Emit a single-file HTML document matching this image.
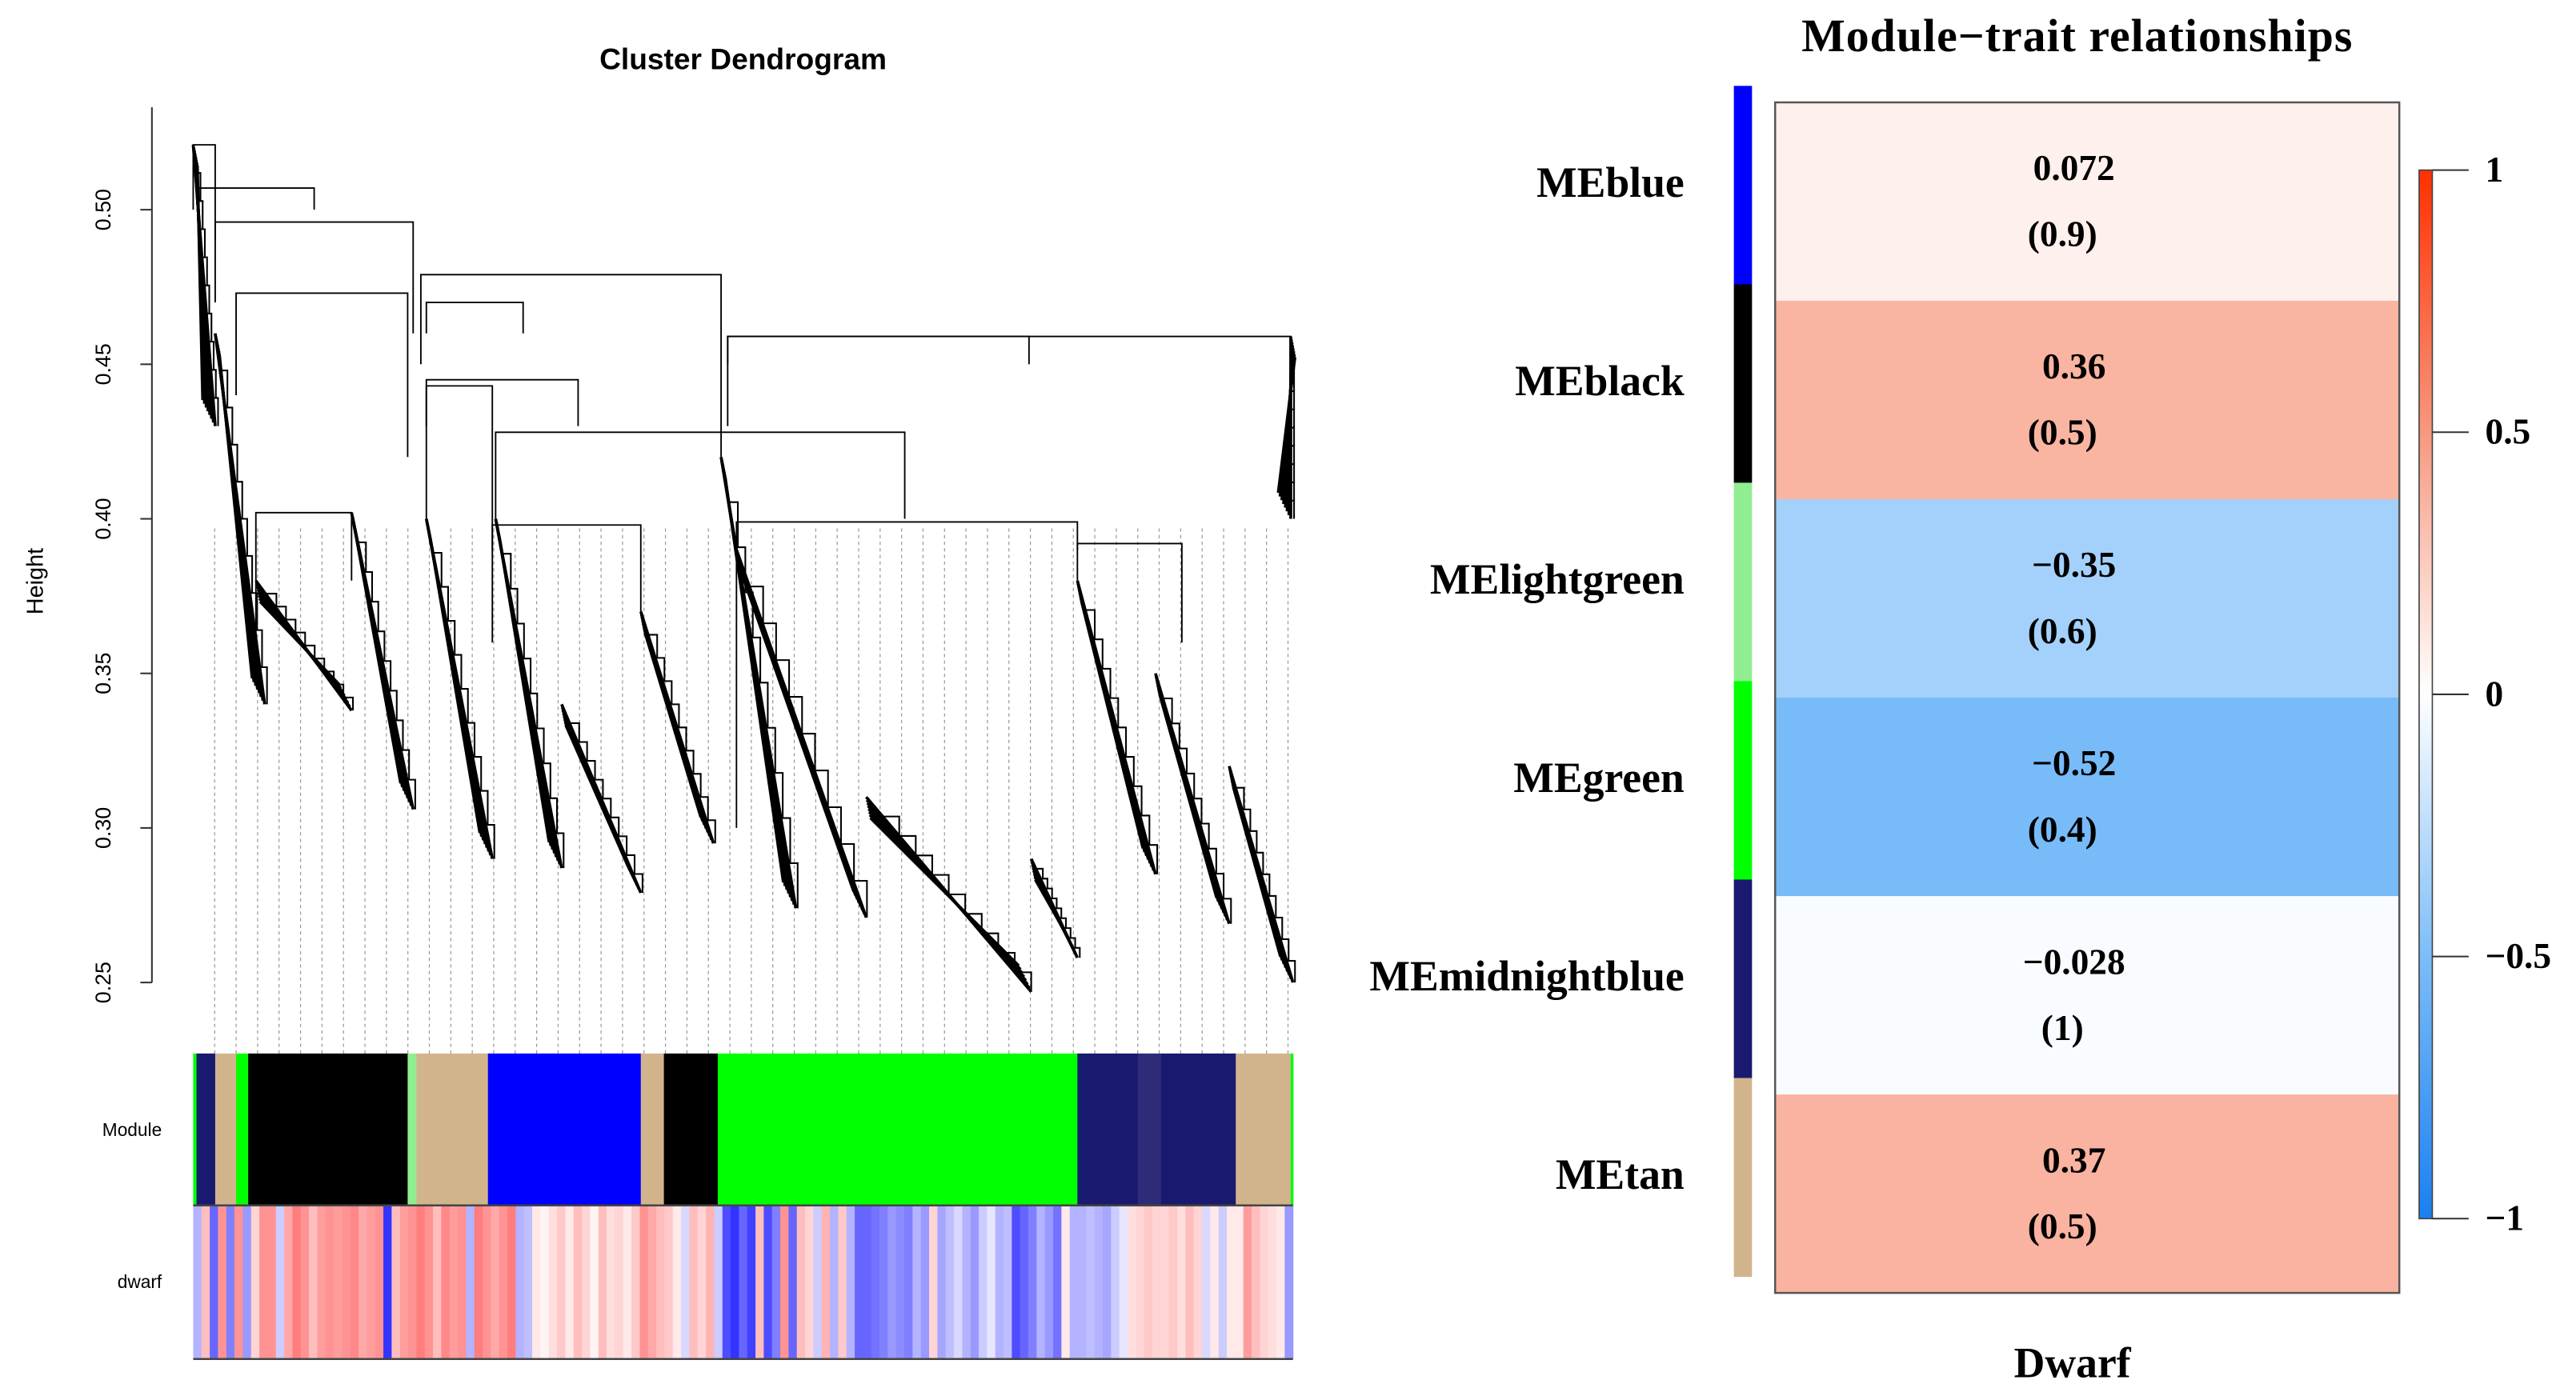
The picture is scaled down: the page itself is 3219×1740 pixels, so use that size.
<!DOCTYPE html>
<html><head><meta charset="utf-8"><style>
html,body{margin:0;padding:0;background:#fff;}
svg{display:block;}
</style></head><body>
<svg id="fig" xmlns="http://www.w3.org/2000/svg" width="3219" height="1740" viewBox="0 0 1560 843" preserveAspectRatio="none">
<rect width="1560" height="843" fill="#fff"/>
<g id="left" font-family="Liberation Sans, sans-serif">
 <text x="450" y="42" font-size="18" font-weight="bold" text-anchor="middle">Cluster Dendrogram</text>
 <text x="26" y="352" font-size="14" text-anchor="middle" transform="rotate(-90 26 352)">Height</text>
 <line x1="92" y1="65" x2="92" y2="595" stroke="#333" stroke-width="1"/>
 <g id="yticks"></g>
 <g id="guides"></g>
 <g id="dendro"></g>
 <text x="98" y="688" font-size="11" text-anchor="end">Module</text>
 <text x="98" y="780" font-size="11" text-anchor="end">dwarf</text>
 <g id="modbar"></g>
 <g id="dwarfbar"></g>
 <line x1="117" y1="730" x2="783" y2="730" stroke="#444" stroke-width="1.2"/>
 <line x1="117" y1="823" x2="783" y2="823" stroke="#444" stroke-width="1.2"/>
</g>
<g id="right" font-family="Liberation Serif, serif" font-weight="bold">
 <text x="1258" y="31" font-size="28" text-anchor="middle" letter-spacing="0.5">Module−trait relationships</text>
 <g id="heat"></g>
 <rect x="1075" y="62" width="378" height="721" fill="none" stroke="#555" stroke-width="1.2"/>
 <defs><linearGradient id="cb" x1="0" y1="1" x2="0" y2="0">
  <stop offset="0" stop-color="#1a80f0"/><stop offset="0.25" stop-color="#7cbdf9"/><stop offset="0.5" stop-color="#ffffff"/><stop offset="0.75" stop-color="#f7987e"/><stop offset="1" stop-color="#ff3000"/></linearGradient></defs>
 <rect x="1465" y="103" width="8" height="635" fill="url(#cb)" stroke="#444" stroke-width="0.8"/>
 <g id="cbticks"></g>
 <text x="1255" y="834" font-size="26" text-anchor="middle">Dwarf</text>
</g>
</svg>
<script>
// ---------- data ----------
const yTicks = [0.25, 0.30, 0.35, 0.40, 0.45, 0.50];
const yTickLabels = ["0.25", "0.30", "0.35", "0.40", "0.45", "0.50"];
// merges: [leftLeaf, rightLeaf, height, leftChildHeight, rightChildHeight]
const merges = [
 [0,20,0.521,0.50,0.49],[5,110,0.507,0.50,0.50],[20,200,0.496,0.47,0.46],[39,195,0.473,0.44,0.42],
 [207,480,0.479,0.45,0.42],[486,998,0.459,0.43,0.402],[275,647,0.428,0.40,0.40],[57,144,0.402,0.36,0.38],
 [494,804,0.399,0.30,0.39],[212,272,0.443,0.40,0.39],[272,407,0.398,0.36,0.37],[804,899,0.392,0.38,0.36],
 [486,760,0.459,0.45,0.45],[212,300,0.470,0.46,0.46],[212,350,0.445,0.43,0.43]
];
// bundles: [topLeaf, topHeight, bottomLeaf, bottomHeight]
const bundles = [
 [0,0.521,20,0.43],[20,0.46,65,0.34],[57,0.38,144,0.338],[144,0.402,200,0.306],[212,0.40,272,0.29],
 [275,0.40,335,0.287],[335,0.34,407,0.279],[407,0.37,473,0.295],[480,0.42,548,0.274],[494,0.39,612,0.271],
 [612,0.31,762,0.247],[762,0.29,804,0.258],[804,0.38,875,0.285],[875,0.35,942,0.269],[942,0.32,1000,0.25],
 [998,0.459,998,0.40]
];
// module segments: [startLeaf, endLeaf, color]
const moduleSegs = [
 [0,3,"#00ff00"],[3,20,"#191970"],[20,39,"#d2b48c"],[39,50,"#00ff00"],[50,195,"#000000"],[195,203,"#90ee90"],
 [203,268,"#d2b48c"],[268,407,"#0000ff"],[407,428,"#d2b48c"],[428,477,"#000000"],[477,486,"#00ff00"],
 [486,804,"#00ff00"],[804,859,"#191970"],[859,880,"#2e2c78"],[880,948,"#191970"],[948,998,"#d2b48c"],[998,1000,"#00ff00"]
];
const dwarfValues = [
 -0.3,0.3,-0.6,0.5,-0.5,0.5,-0.4,
 0.2,0.5,0.5,-0.2,0.4,0.6,0.5,0.3,0.45,0.5,0.45,0.5,0.55,0.4,0.45,0.5,-0.8,0.3,0.45,0.5,
 0.6,0.5,0.3,0.55,0.45,0.5,-0.3,0.6,0.5,0.4,
 0.5,0.6,-0.3,-0.25,0.1,0.05,0.15,0.25,0.1,0.3,0.2,0.05,0.3,0.15,0.2,0.1,0.25,0.5,
 0.4,0.3,0.25,0.1,-0.15,0.3,0.2,0.35,-0.2,
 -0.7,-0.8,-0.6,-0.75,0.3,-0.7,-0.5,0.5,-0.6,0.3,0.2,-0.2,0.35,-0.3,0.25,-0.3,-0.6,
 -0.6,-0.55,-0.5,-0.4,-0.45,-0.5,-0.3,-0.4,0.2,-0.35,-0.25,-0.15,-0.3,-0.4,-0.2,-0.1,-0.3,-0.25,-0.7,-0.6,-0.5,-0.3,-0.4,-0.55,0.1,-0.3,
 -0.3,-0.25,-0.3,-0.35,-0.2,-0.1,0.15,0.2,0.25,0.2,
 0.2,0.25,0.15,0.3,0.2,-0.15,0.1,-0.2,0.1,0.1,
 0.45,0.3,0.2,0.15,0.1,-0.4
];
const modules = ["MEblue","MEblack","MElightgreen","MEgreen","MEmidnightblue","MEtan"];
const moduleColors = ["#0000ff","#000000","#90ee90","#00ff00","#191970","#d2b48c"];
const corrValues = [0.072, 0.36, -0.35, -0.52, -0.028, 0.37];
const corrLabels = ["0.072","0.36","\u22120.35","\u22120.52","\u22120.028","0.37"];
const pLabels = ["(0.9)","(0.5)","(0.6)","(0.4)","(1)","(0.5)"];
const cbTicks = [1, 0.5, 0, -0.5, -1];
const cbTickLabels = ["1","0.5","0","\u22120.5","\u22121"];

// ---------- scales ----------
const NS="http://www.w3.org/2000/svg";
function mk(tag, attrs, parent){const e=document.createElementNS(NS,tag);for(const k in attrs)e.setAttribute(k,attrs[k]);parent.appendChild(e);return e;}
const xL = l => 117 + l/1000*666;
const yH = h => 595 - (h-0.25)/0.25*468;
const yC = v => 420.5 - v*317.5;
const rowY = i => 62 + i*721/6;

const yt=document.getElementById('yticks');
yTicks.forEach((t,i)=>{
 const l=mk('line',{x1:85,x2:92,y1:yH(t),y2:yH(t),stroke:'#333','stroke-width':1},yt);
 
 
 const tx=mk('text',{x:67,y:yH(t),'font-size':13,'text-anchor':'middle',transform:`rotate(-90 67 ${yH(t)})`},yt);
 tx.textContent=yTickLabels[i];
 
 
});
const gd=document.getElementById('guides');
for(let k=0;k<51;k++){
 const x=130+k*13;
 const l=mk('line',{x1:x,x2:x,y1:320,y2:638,stroke:'#999','stroke-width':0.6,'stroke-dasharray':'2,2'},gd);
 
 
}
const dg=document.getElementById('dendro');
merges.forEach(m=>{
 const [a,b,h,ha,hb]=m;
 const p=mk('path',{d:`M${xL(a)},${yH(ha)}V${yH(h)}H${xL(b)}V${yH(hb)}`,fill:'none',stroke:'#000','stroke-width':0.9},dg);
 
 
});
bundles.forEach(bd=>{
 const [a,ha,b,hb]=bd;
 const g=mk('g',{},dg);
 
 
 const x1=xL(a),y1=yH(ha),x2=xL(b),y2=yH(hb);
 for(let j=0;j<8;j++){
  const o=j*0.9;
  mk('line',{x1:x1+o*0.4,y1:y1+o*2,x2:x2-o*1.2,y2:y2-o*2.5,stroke:'#000','stroke-width':1.8},g);
 }
 for(let j=1;j<10;j++){
  const t=j/10, xx=x1+(x2-x1)*t, yy=y1+(y2-y1)*t;
  mk('path',{d:`M${xx},${yy}H${xx+(x2-x1)*0.08+2}V${yy+(y2-y1)*0.1}`,fill:'none',stroke:'#000','stroke-width':1},g);
 }
});
const mb=document.getElementById('modbar');
moduleSegs.forEach(s=>{
 const r=mk('rect',{x:xL(s[0]),y:638,width:xL(s[1])-xL(s[0])+0.3,height:92,fill:s[2]},mb);
 
 
});
const db=document.getElementById('dwarfbar');
const sw=666/dwarfValues.length;
function dcol(v){const a=Math.min(1,Math.abs(v));if(v>=0){const g=Math.round(255*(1-0.85*a));return `rgb(255,${g},${g})`;}const g=Math.round(255*(1-a));return `rgb(${g},${g},255)`;}
dwarfValues.forEach((v,i)=>{
 const r=mk('rect',{x:117+i*sw,y:730,width:sw+0.3,height:93,fill:dcol(v)},db);
 
 
});
function hcol(v){
 const stops=[[-1,[26,128,240]],[-0.5,[124,189,249]],[0,[255,255,255]],[0.5,[247,152,126]],[1,[255,48,0]]];
 for(let i=0;i<stops.length-1;i++){const [a,ca]=stops[i],[b,cb]=stops[i+1];
  if(v>=a&&v<=b){const t=(v-a)/(b-a);return 'rgb('+ca.map((c,k)=>Math.round(c+(cb[k]-c)*t)).join(',')+')';}}
 return '#fff';
}
const hm=document.getElementById('heat');
const rh=721/6;
modules.forEach((m,i)=>{
 const y=rowY(i);
 const c=mk('rect',{x:1075,y:y,width:378,height:rh+0.3,fill:hcol(corrValues[i])},hm);
 
 
 const s=mk('rect',{x:1050,y:y-10,width:11,height:rh+0.3,fill:moduleColors[i]},hm);
 
 
 const lb=mk('text',{x:1020,y:y+rh/2-3,'font-size':26,'text-anchor':'end'},hm);
 lb.textContent=m;
 
 
 const v=mk('text',{x:1256,y:y+rh/2-13,'font-size':22,'text-anchor':'middle'},hm);
 v.textContent=corrLabels[i];
 
 
 const p=mk('text',{x:1249,y:y+rh/2+27,'font-size':22,'text-anchor':'middle'},hm);
 p.textContent=pLabels[i];
 
 
});
const cbt=document.getElementById('cbticks');
cbTicks.forEach((t,i)=>{
 const l=mk('line',{x1:1473,x2:1495,y1:yC(t),y2:yC(t),stroke:'#333','stroke-width':1},cbt);
 
 
 const tx=mk('text',{x:1505,y:yC(t)+7,'font-size':22},cbt);
 tx.textContent=cbTickLabels[i];
 
 
});
</script>
</body></html>
